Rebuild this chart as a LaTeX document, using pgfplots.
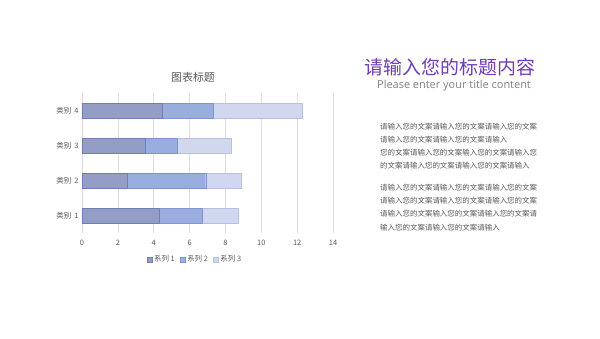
\documentclass[border=0pt]{standalone}
\usepackage{pgfplots}
\pgfplotsset{compat=1.18}
\usepackage{fontspec}
\setmainfont{Noto Sans CJK SC}
\newfontfamily\latinfont{Open Sans}
\definecolor{sA}{HTML}{939DC6}
\definecolor{sAd}{HTML}{6F7FB5}
\definecolor{sB}{HTML}{9AADDF}
\definecolor{sBd}{HTML}{7F94CE}
\definecolor{sC}{HTML}{D0D7EE}
\definecolor{sCd}{HTML}{B5C0E2}
\definecolor{txt}{HTML}{595959}
\definecolor{purp}{HTML}{6E3CB4}
\begin{document}
\begin{tikzpicture}[x=1bp,y=1bp]
\useasboundingbox (0,0) rectangle (600,338);
\begin{axis}[
  at={(82bp,105bp)}, anchor=south west,
  scale only axis, width=251bp, height=140bp,
  xbar stacked, bar width=15bp,
  xmin=0, xmax=14, ymin=0.5, ymax=4.5,
  xtick={0,2,...,14}, ytick={1,2,3,4},
  yticklabels={类别\ \,1,类别\ \,2,类别\ \,3,类别\ \,4},
  xmajorgrids, grid style={draw=black!12, line width=0.6pt},
  axis x line*=bottom, axis y line*=left,
  x axis line style={draw=none},
  y axis line style={draw=black!15, -},
  major tick length=0pt,
  tick label style={font=\fontsize{7.5}{8}\selectfont, text=txt},
  xticklabel style={yshift=-4bp},
  /pgf/number format/assume math mode=true,
  legend columns=3,
  legend style={at={(0.45,-0.19)}, anchor=center, draw=none, fill=none,
    font=\fontsize{7.5}{8}\selectfont, text=txt,
    /tikz/every even column/.append style={column sep=3bp}},
  legend image code/.code={\draw[#1] (0bp,-2.5bp) rectangle (5bp,2.5bp);},
]
\addplot[fill=sA, draw=sAd] coordinates {(4.3,1) (2.5,2) (3.5,3) (4.5,4)};
\addplot[fill=sB, draw=sBd] coordinates {(2.4,1) (4.4,2) (1.8,3) (2.8,4)};
\addplot[fill=sC, draw=sCd] coordinates {(2,1) (2,2) (3,3) (5,4)};
\legend{系列\ 1,系列\ 2,系列\ 3}
\end{axis}
\node[text=txt, font=\fontsize{11}{12}\selectfont] at (193,261) {图表标题};
\node[text=purp, font=\fontsize{19}{20}\selectfont] at (450,271) {请输入您的标题内容};
\node[text=black!50, font=\latinfont\fontsize{11}{12}\selectfont] at (454,252) {Please enter your title content};
\begin{scope}[every node/.style={anchor=base west, inner sep=0pt, text=txt, font=\fontsize{7.5}{8}\selectfont}]
\node at (380,209) {请输入您的文案请输入您的文案请输入您的文案};
\node at (380,196) {请输入您的文案请输入您的文案请输入};
\node at (380,183) {您的文案请输入您的文案输入您的文案请输入您};
\node at (380,170) {的文案请输入您的文案请输入您的文案请输入};
\node at (380,148) {请输入您的文案请输入您的文案请输入您的文案};
\node at (380,135) {请输入您的文案请输入您的文案请输入您的文案};
\node at (380,122) {请输入您的文案输入您的文案请输入您的文案请};
\node at (380,108) {输入您的文案请输入您的文案请输入};
\end{scope}
\end{tikzpicture}
\end{document}
